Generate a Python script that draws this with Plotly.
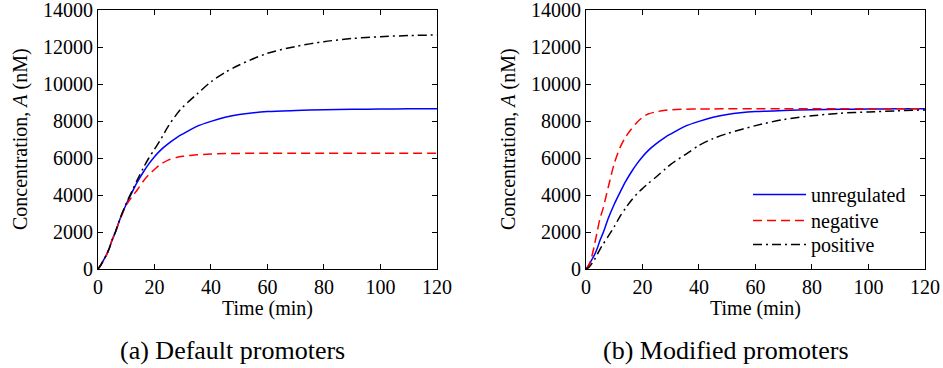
import plotly.graph_objects as go

W, H = 943, 368

# Time points (min)
t = [0, 1, 2, 3, 4, 5, 6, 8, 10, 12, 14, 16, 18, 20, 22, 25, 28, 30, 35, 40, 45, 50, 60, 70, 80, 90, 100, 110, 120]

# unregulated (same in both panels)
unreg = [0, 215, 490, 760, 1120, 1570, 1930, 2780, 3500, 4130, 4720, 5230, 5680, 6070, 6400, 6790, 7120, 7300, 7710, 7980, 8200, 8350, 8510, 8570, 8610, 8630, 8645, 8660, 8667]

# (a) Default promoters
neg_a = [0, 215, 490, 760, 1120, 1570, 1930, 2770, 3450, 3900, 4300, 4740, 5100, 5380, 5640, 5900, 6040, 6090, 6170, 6220, 6240, 6250, 6260, 6260, 6260, 6260, 6260, 6260, 6260]
pos_a = [0, 215, 490, 760, 1120, 1570, 1940, 2800, 3550, 4200, 4850, 5450, 6000, 6470, 6950, 7750, 8400, 8750, 9450, 10120, 10630, 11030, 11660, 12030, 12290, 12460, 12560, 12620, 12650]

# (b) Modified promoters
neg_b = [0, 200, 650, 1300, 2050, 2750, 3250, 4500, 5700, 6550, 7130, 7550, 7920, 8200, 8380, 8500, 8580, 8610, 8640, 8650, 8655, 8658, 8660, 8662, 8664, 8665, 8666, 8667, 8667]
pos_b = [0, 80, 280, 510, 800, 1080, 1330, 1800, 2290, 2830, 3290, 3700, 4060, 4350, 4620, 5000, 5400, 5660, 6170, 6680, 7050, 7320, 7750, 8080, 8280, 8420, 8490, 8550, 8600]

names = ["unregulated", "negative", "positive"]
subtitles = ["(a) Default promoters", "(b) Modified promoters"]
xticks = [0, 20, 40, 60, 80, 100, 120]
yticks = [0, 2000, 4000, 6000, 8000, 10000, 12000, 14000]

FONT = "Liberation Serif, Times New Roman, serif"
styles = [dict(color="#0000ff", width=1.5, dash="solid"),
          dict(color="#ff0000", width=1.5, dash="9px,5px"),
          dict(color="#000000", width=1.5, dash="9px,4px,2px,4px")]
legend_ids = ["legend", "legend2", "legend3"]

fig = go.Figure()
for i, ys in enumerate([unreg, neg_a, pos_a]):
    fig.add_trace(go.Scatter(x=t, y=ys, mode="lines", line=dict(shape="spline", smoothing=0.8, **styles[i]),
                             name=names[i], showlegend=False, xaxis="x", yaxis="y"))
for i, ys in enumerate([unreg, neg_b, pos_b]):
    fig.add_trace(go.Scatter(x=t, y=ys, mode="lines", line=dict(shape="spline", smoothing=0.8, **styles[i]),
                             name=names[i], showlegend=True, legend=legend_ids[i], xaxis="x2", yaxis="y2"))

ydom = [1 - 269 / H, 1 - 10 / H]
ax_common = dict(showline=True, linecolor="black", linewidth=1, mirror="ticks", ticks="inside", ticklen=5,
                 tickcolor="black", showgrid=False, zeroline=False, automargin=False,
                 ticklabeloverflow="allow",
                 tickfont=dict(family=FONT, size=20, color="black"))
xax = dict(range=[0, 120.01], tickvals=xticks, ticktext=[str(v) for v in xticks], **ax_common)
yax = dict(range=[0, 14001], tickvals=yticks, ticktext=[str(v) for v in yticks], **ax_common)

leg_common = dict(x=748 / W, xanchor="left", yanchor="top", bgcolor="rgba(0,0,0,0)",
                  font=dict(family=FONT, size=20, color="black"), itemwidth=53)
fig.update_layout(
    width=W, height=H, margin=dict(l=0, r=0, t=0, b=0),
    paper_bgcolor="white", plot_bgcolor="white",
    font=dict(family=FONT, size=20, color="black"),
    xaxis=dict(domain=[98 / W, 437 / W], anchor="y", **xax),
    yaxis=dict(domain=ydom, anchor="x", **yax),
    xaxis2=dict(domain=[586 / W, 925 / W], anchor="y2", **xax),
    yaxis2=dict(domain=ydom, anchor="x2", **yax),
    legend=dict(y=1 - 175 / H, **leg_common),
    legend2=dict(y=1 - 201 / H, **leg_common),
    legend3=dict(y=1 - 225 / H, **leg_common),
)

ann = []
for cx, ycx in [(267.5, 20), (755.5, 508)]:
    ann.append(dict(text="Time (min)", x=cx / W, y=1 - 308 / H, xref="paper", yref="paper",
                    showarrow=False, xanchor="center", yanchor="middle", font=dict(family=FONT, size=20)))
    ann.append(dict(text="Concentration, <i>A</i> (nM)", x=ycx / W, y=1 - 139 / H, xref="paper", yref="paper",
                    showarrow=False, xanchor="center", yanchor="middle", textangle=-90, font=dict(family=FONT, size=20)))
for sub, sub_cx in zip(subtitles, [232, 726]):
    ann.append(dict(text=sub, x=sub_cx / W, y=1 - 350 / H, xref="paper", yref="paper",
                    showarrow=False, xanchor="center", yanchor="middle", font=dict(family=FONT, size=26)))
fig.update_layout(annotations=ann)

fig.write_html("out.html", config={"displayModeBar": False},
               post_script="document.body.style.margin='0';document.body.style.overflow='hidden';")
